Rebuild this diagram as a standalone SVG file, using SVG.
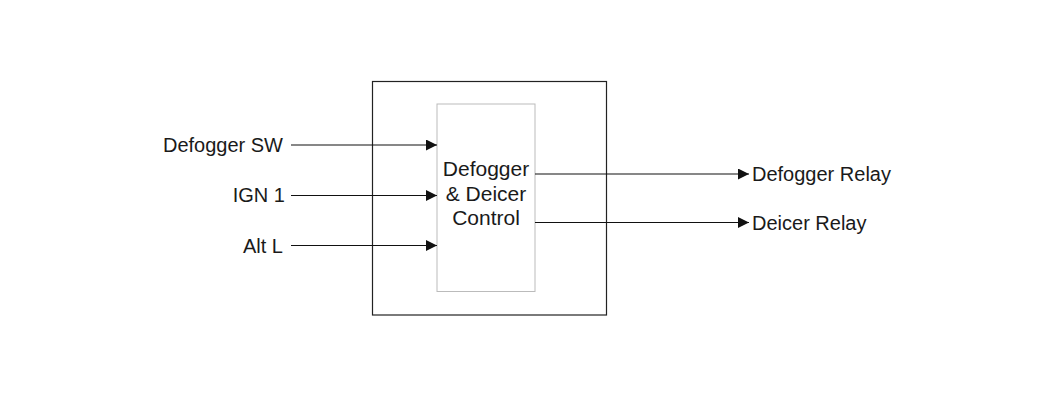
<svg xmlns="http://www.w3.org/2000/svg" width="1050" height="396" viewBox="0 0 1050 396">
<style>
text{font-family:"Liberation Sans",Arial,sans-serif;font-size:20px;fill:#1a1a1a}
.in{font-size:21px}
.c{stroke:#111;stroke-width:1.2;fill:none}
</style>
<defs>
<marker id="ah" markerWidth="11" markerHeight="11" refX="11" refY="5.5" orient="auto" markerUnits="userSpaceOnUse">
<path d="M0,0 L11,5.5 L0,11 Z" fill="#111"/>
</marker>
</defs>
<rect width="1050" height="396" fill="#fff"/>
<g id="module">
<rect x="372.5" y="81.5" width="234" height="233.5" fill="none" stroke="#222" stroke-width="1.2"/>
</g>
<g id="control">
<rect x="437" y="104" width="98" height="187.5" fill="#fff" stroke="#bbb" stroke-width="1"/>
<text class="in" x="486" y="176" text-anchor="middle">Defogger</text>
<text class="in" x="486" y="201" text-anchor="middle">&amp; Deicer</text>
<text class="in" x="486" y="225" text-anchor="middle">Control</text>
</g>
<g id="in-defogger-sw"><text x="283" y="152" text-anchor="end">Defogger SW</text></g>
<g id="in-ign1"><text x="285" y="202" text-anchor="end">IGN 1</text></g>
<g id="in-altl"><text x="283" y="252.5" text-anchor="end">Alt L</text></g>
<g id="out-defogger-relay"><text x="752" y="181">Defogger Relay</text></g>
<g id="out-deicer-relay"><text x="752" y="230">Deicer Relay</text></g>
<g id="connectors">
<line class="c" x1="291" y1="145" x2="437" y2="145" marker-end="url(#ah)"/>
<line class="c" x1="291" y1="195.5" x2="437" y2="195.5" marker-end="url(#ah)"/>
<line class="c" x1="291" y1="245.5" x2="437" y2="245.5" marker-end="url(#ah)"/>
<line class="c" x1="535" y1="174" x2="749" y2="174" marker-end="url(#ah)"/>
<line class="c" x1="535" y1="222.5" x2="749" y2="222.5" marker-end="url(#ah)"/>
</g>
</svg>
